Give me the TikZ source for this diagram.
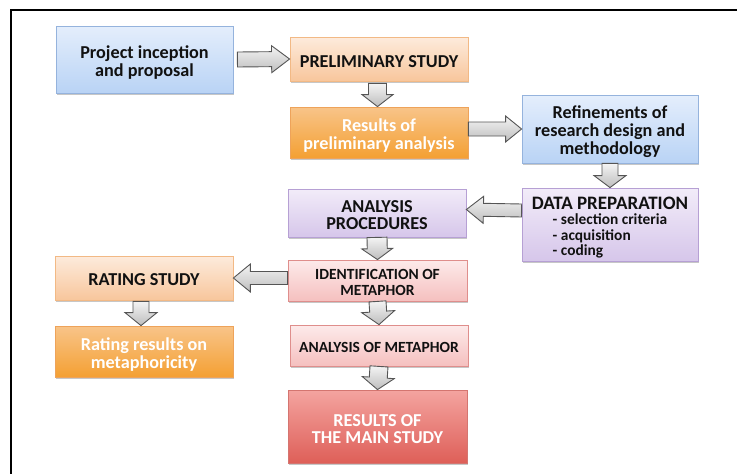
\documentclass[tikz,border=0pt]{standalone}
\usepackage{fontspec}
\setmainfont{Carlito}
\usetikzlibrary{calc,shadows}
\definecolor{bluetop}{HTML}{E4EEFC}\definecolor{bluebot}{HTML}{B9D3F5}\definecolor{blueln}{HTML}{95B3DD}
\definecolor{lotop}{HTML}{FDEBDC}\definecolor{lobot}{HTML}{F8C69C}\definecolor{loln}{HTML}{F2B985}
\definecolor{ortop}{HTML}{F8C489}\definecolor{orbot}{HTML}{F4A033}\definecolor{orln}{HTML}{EEA35A}
\definecolor{putop}{HTML}{F2ECF9}\definecolor{pubot}{HTML}{D6C6EA}\definecolor{puln}{HTML}{B6A0D4}
\definecolor{pitop}{HTML}{FDEAEA}\definecolor{pibot}{HTML}{F5C0BF}\definecolor{piln}{HTML}{DF8E8C}
\definecolor{retop}{HTML}{F4A4A0}\definecolor{rebot}{HTML}{DE5F58}\definecolor{reln}{HTML}{D47570}
\definecolor{artop}{HTML}{F4F4F4}\definecolor{arbot}{HTML}{BDBDBD}\definecolor{arln}{HTML}{555555}
\definecolor{txt}{HTML}{111111}
% text block lowered by #1 without changing its reported size
\newcommand{\dn}[2][2.5pt]{\raisebox{-#1}[\height][\depth]{\begin{tabular}{@{}c@{}}#2\end{tabular}}}
\tikzset{
  box/.style={rectangle, line width=0.8pt, text=txt, inner sep=0pt,
    font=\fontsize{18.2}{17.8}\selectfont\bfseries,
    drop shadow={shadow xshift=1pt, shadow yshift=-1.5pt, fill=black, opacity=0.22}},
  smallfont/.style={font=\fontsize{15.5}{16}\selectfont\bfseries},
  bluebox/.style={box, draw=blueln, top color=bluetop, bottom color=bluebot},
  lobox/.style={box, draw=loln, top color=lotop, bottom color=lobot},
  orbox/.style={box, draw=orln, top color=ortop, bottom color=orbot, text=white},
  pubox/.style={box, draw=puln, top color=putop, bottom color=pubot},
  pibox/.style={box, draw=piln, top color=pitop, bottom color=pibot},
  rebox/.style={box, draw=reln, top color=retop, bottom color=rebot, text=white},
  blockarrow/.style={draw=arln, line width=0.9pt, top color=artop, bottom color=arbot, line join=miter},
  frameline/.style={line width=2.4pt, black}
}
% #1 from, #2 to, #3 shaft half width, #4 head half width, #5 head length
\newcommand{\fatarrow}[5]{%
  \path[blockarrow] let \p1=(#1), \p2=(#2),
    \n1={atan2(\y2-\y1,\x2-\x1)}, \n2={veclen(\x2-\x1,\y2-\y1)} in
    [shift={(\p1)}, rotate=\n1]
    (0,-#3) -- (\n2-#5,-#3) -- (\n2-#5,-#4) -- (\n2,0) -- (\n2-#5,#4) -- (\n2-#5,#3) -- (0,#3) -- cycle;}
\begin{document}
\begin{tikzpicture}[x=1pt,y=-1pt]
\useasboundingbox (0,0) rectangle (737,474);
\draw[frameline] (11,474) -- (11,10) -- (737,10);

\node[bluebox, minimum width=177pt, minimum height=67pt] (proj) at (144.5,59.5) {\dn[4.5pt]{Project inception\\and proposal}};
\node[lobox, minimum width=178pt, minimum height=44pt] (prelim) at (379,59) {\dn[5pt]{PRELIMINARY STUDY}};
\node[orbox, minimum width=178pt, minimum height=51pt] (respre) at (379,132.5) {\dn[4.5pt]{Results of\\preliminary analysis}};
\node[bluebox, minimum width=176pt, minimum height=68pt, font=\fontsize{18.2}{18.3}\selectfont\bfseries] (refine) at (610,129) {\dn[4pt]{Refinements of\\research design and\\methodology}};
\node[pubox, minimum width=176pt, minimum height=73pt, font=\fontsize{19}{15}\selectfont\bfseries] (data) at (610,224.5)
  {\dn[4.5pt]{DATA PREPARATION\\[-0.5pt]
   {\fontsize{15.4}{15.6}\selectfont\begin{tabular}[t]{@{}l@{}}- selection criteria\\- acquisition\\- coding\end{tabular}}}};
\node[pubox, minimum width=178pt, minimum height=48pt] (anproc) at (377,213) {\dn[4.5pt]{ANALYSIS\\PROCEDURES}};
\node[pibox, smallfont, minimum width=179pt, minimum height=41pt] (ident) at (377.5,280.5) {\dn[4pt]{IDENTIFICATION OF\\METAPHOR}};
\node[lobox, minimum width=178pt, minimum height=44pt] (rating) at (144,278) {\dn[4pt]{RATING STUDY}};
\node[orbox, minimum width=178pt, minimum height=51pt] (ratres) at (144,351.5) {\dn[4.5pt]{Rating results on\\metaphoricity}};
\node[pibox, smallfont, minimum width=178pt, minimum height=41pt] (anmet) at (379,345.5) {\dn[3.5pt]{ANALYSIS OF METAPHOR}};
\node[rebox, minimum width=179pt, minimum height=73pt] (resmain) at (377.5,426.5) {\dn[5pt]{RESULTS OF\\THE MAIN STUDY}};

\fatarrow{$(proj.east)+(4,0)$}{prelim.west}{7.5}{13.5}{18}
\fatarrow{$(prelim.south)+(-1.5,2)$}{$(respre.north)+(-1.5,0)$}{9}{15.5}{12}
\fatarrow{respre.east |- refine.west}{refine.west}{7}{13}{16}
\fatarrow{refine.south}{data.north}{8}{16}{12}
\fatarrow{$(data.west)+(0,-14)$}{$(anproc.east)+(0,-3.5)$}{6.5}{13.5}{17}
\fatarrow{anproc.south}{ident.north}{10}{15.5}{11}
\fatarrow{ident.west |- rating.east}{rating.east}{6.5}{14}{17}
\fatarrow{$(rating.south)+(-3,1)$}{$(ratres.north)+(-3,0)$}{8}{16}{13}
\fatarrow{ident.south}{anmet.north}{8.5}{16.5}{13}
\fatarrow{anmet.south}{resmain.north}{9}{16}{12}
\end{tikzpicture}
\end{document}
